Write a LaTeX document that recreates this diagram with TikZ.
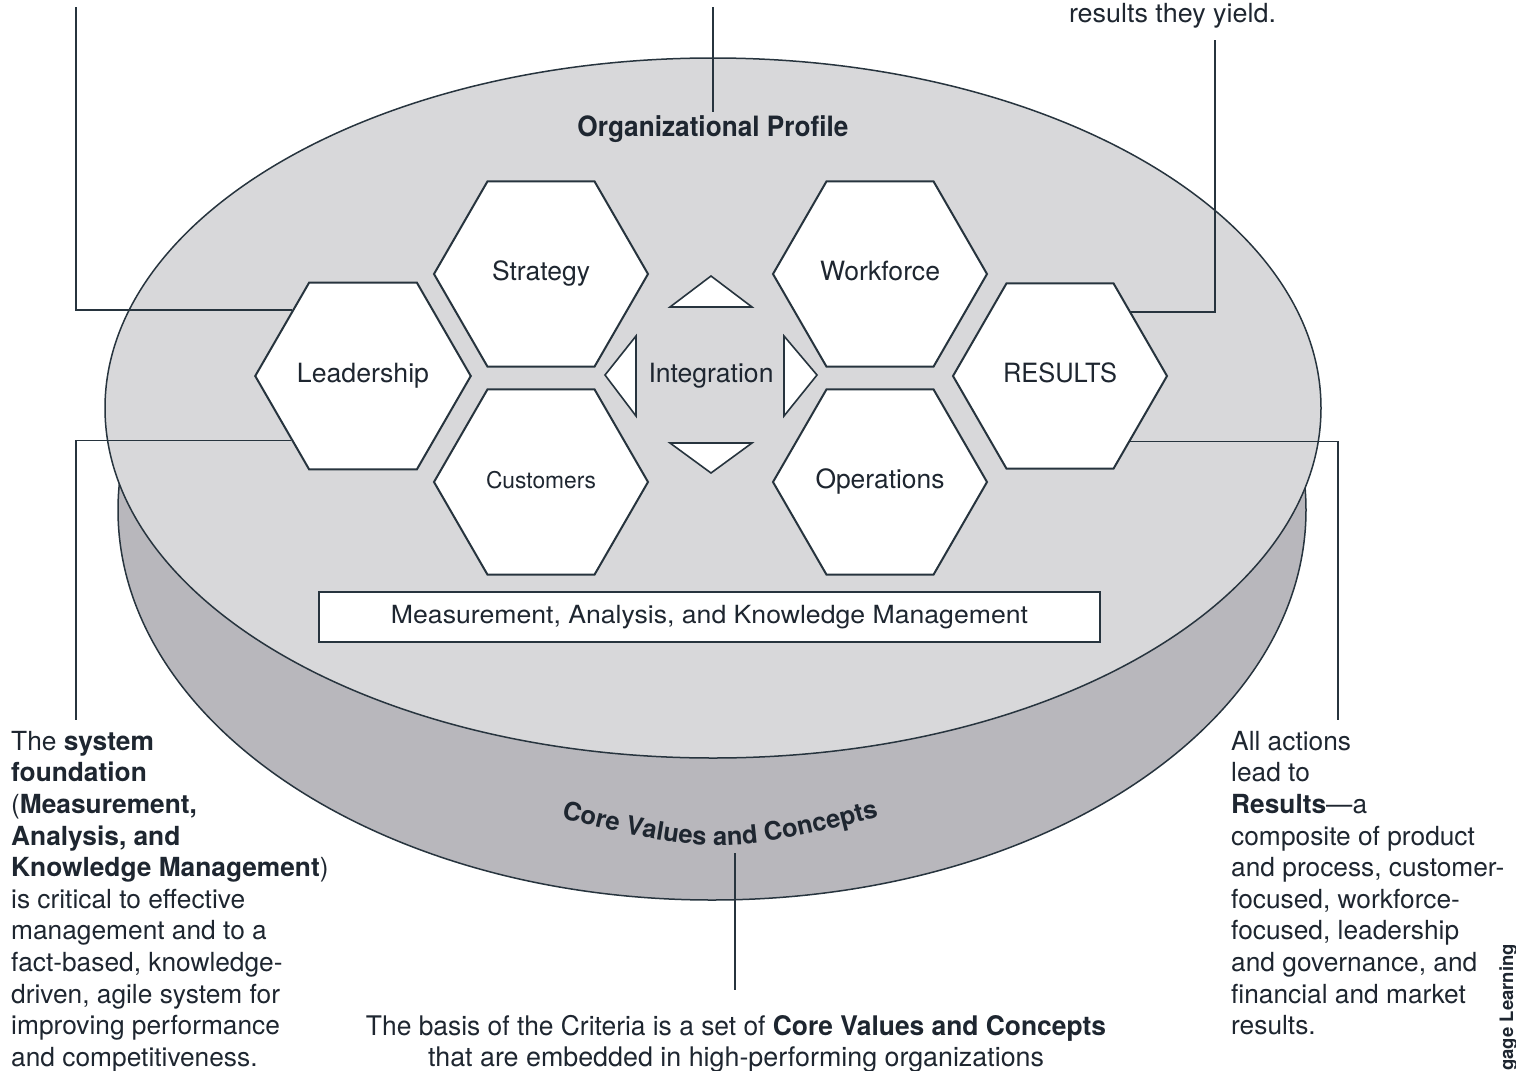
\documentclass[tikz,border=0pt]{standalone}
\usepackage{fontspec}
\setmainfont{TeX Gyre Heros}
\usepackage{graphicx}
\usetikzlibrary{shapes.geometric,decorations.text}
\definecolor{topfill}{HTML}{D8D8DA}
\definecolor{sidefill}{HTML}{B8B7BC}
\definecolor{ink}{HTML}{27343E}
\definecolor{txt}{HTML}{1E2630}
\newcommand\fitw[2]{\resizebox{#1}{\height}{#2}}
\newcommand\bodyfont{\fontsize{26.3}{31.6}\selectfont}
\newcommand\hexfont{\fontsize{26.5}{30}\selectfont}
\newcommand\corefont{\bfseries\fontsize{25.5}{30}\selectfont}
\begin{document}
\begin{tikzpicture}[x=1pt,y=-1pt,
  hexa/.style={regular polygon, regular polygon sides=6, minimum size=214pt, inner sep=0pt, draw=ink, line width=2pt, fill=white, text=txt, font=\hexfont, text height=19pt, text depth=6pt},
  callout/.style={draw=ink, line width=1.4pt},
  tri/.style={draw=ink, line width=1.6pt, fill=white, line join=miter},
  lbl/.style={text=txt, inner sep=0pt}]
\useasboundingbox (0,0) rectangle (1516,1071);
% cylinder
\path[fill=sidefill, draw=ink, line width=1.5pt] (712,510) ellipse [x radius=594pt, y radius=390pt];
\path[fill=topfill, draw=ink, line width=1.5pt] (713,408) ellipse [x radius=608pt, y radius=350pt];
% measurement box
\node[draw=ink, line width=1.8pt, fill=white, minimum width=781pt, minimum height=50pt, inner sep=0pt, text=txt] (makm) at (709.5,617) {\fontsize{25}{28}\selectfont\fitw{637pt}{Measurement, Analysis, and Knowledge Management}};
% integration triangles
\filldraw[tri] (670,307) -- (711,276) -- (752,307) -- cycle;
\filldraw[tri] (670,443) -- (711,473) -- (752,443) -- cycle;
\filldraw[tri] (636,336) -- (605,375) -- (636,416) -- cycle;
\filldraw[tri] (784,336) -- (817,375) -- (784,416) -- cycle;
\node[lbl, font=\hexfont] (integ) at (711,376) {\fitw{125pt}{Integration}};
% hexagons
\node[hexa] (lead) at (363,376) {\fitw{132pt}{Leadership}};
\node[hexa] (strat) at (541,274) {\fitw{98pt}{Strategy}};
\node[hexa] (cust) at (541,482) {\fontsize{23}{26}\selectfont\fitw{110pt}{Customers}};
\node[hexa] (work) at (880,274) {\fitw{120pt}{Workforce}};
\node[hexa] (oper) at (880,482) {\fitw{129pt}{Operations}};
\node[hexa] (res) at (1060,376) {\fitw{114pt}{RESULTS}};
% titles
\node[lbl, anchor=base, outer sep=3pt] (orgp) at (713,136) {\bfseries\fontsize{28}{32}\selectfont\fitw{271pt}{Organizational Profile}};
\path[decorate, decoration={text along path, text align=center, text color=txt, text={|\corefont|Core Values and Concepts}}] (520,808) .. controls (720,858) .. (920,806);
% callout lines
\coordinate (tl) at (76,7);
\coordinate (tm) at (713,7);
\coordinate (tr) at (1215,40);
\coordinate (bl) at (76,720);
\coordinate (br) at (1338,720);
\coordinate (cvb) at (735,853);
\coordinate (bsb) at (735,990);
\draw[callout] (lead.137.3) -| (tl);
\draw[callout] (lead.222.7) -| (bl);
\draw[callout] (res.42.7) -| (tr);
\draw[callout] (res.317.3) -| (br);
\draw[callout] (tm) -- (orgp.north);
\draw[callout] (cvb) -- (bsb);
% texts
\node[lbl, anchor=base] (yield) at (1172.5,22) {\bodyfont\fitw{207pt}{results they yield.}};
\node[lbl, anchor=north west, align=left, font=\bodyfont] (lefttext) at (11,731) {The \textbf{system}\\
\textbf{foundation}\\
(\textbf{Measurement,}\\
\textbf{Analysis, and}\\
\textbf{Knowledge Management})\\
is critical to effective\\
management and to a\\
fact-based, knowledge-\\
driven, agile system for\\
improving performance\\
and competitiveness.};
\node[lbl, anchor=north west, align=left, font=\bodyfont] (righttext) at (1231,731) {All actions\\
lead to\\
\textbf{Results}\textemdash a\\
composite of product\\
and process, customer-\\
focused, workforce-\\
focused, leadership\\
and governance, and\\
financial and market\\
results.};
\node[lbl, anchor=base] (basis1) at (736,1035) {\fontsize{27}{31}\selectfont\fitw{740pt}{The basis of the Criteria is a set of \textbf{Core Values and Concepts}}};
\node[lbl, anchor=base] (basis2) at (736,1066) {\fontsize{27}{31}\selectfont\fitw{616pt}{that are embedded in high-performing organizations}};
\node[lbl, rotate=90, anchor=base west, font=\bfseries\fontsize{18.5}{20}\selectfont] (cengage) at (1513,1071) {gage Learning};
\end{tikzpicture}
\end{document}
